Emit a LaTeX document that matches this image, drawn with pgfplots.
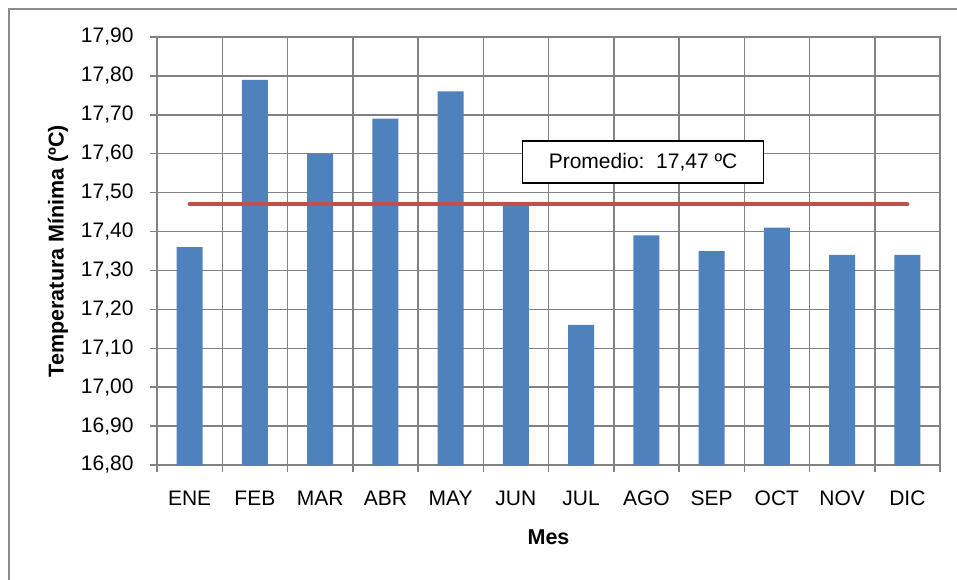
\documentclass[border=0pt]{standalone}
\usepackage{fontspec}
\setmainfont{Liberation Sans}
\usepackage{pgfplots}
\pgfplotsset{compat=1.18}
\definecolor{barblue}{HTML}{4F81BD}
\definecolor{avgred}{HTML}{C0504D}
\definecolor{gridgray}{HTML}{828282}
\definecolor{framegray}{HTML}{8C8C8C}
\begin{document}
\begin{tikzpicture}[x=1pt,y=1pt]
\useasboundingbox (0,0) rectangle (957,579);
\clip (0,0) rectangle (957,579);
\fill[white] (0,0) rectangle (957,579);
\draw[framegray, line width=1.5pt] (9,-10) rectangle (966,570);
\begin{axis}[
  at={(157pt,114pt)}, anchor=south west,
  scale only axis, width=783pt, height=428pt,
  xmin=0.5, xmax=12.5, ymin=16.8, ymax=17.9,
  xtick={1,2,3,4,5,6,7,8,9,10,11,12},
  xticklabels={ENE,FEB,MAR,ABR,MAY,JUN,JUL,AGO,SEP,OCT,NOV,DIC},
  minor xtick={0.5,1.5,2.5,3.5,4.5,5.5,6.5,7.5,8.5,9.5,10.5,11.5,12.5},
  ytick={16.8,16.9,17.0,17.1,17.2,17.3,17.4,17.5,17.6,17.7,17.8,17.9},
  xtick pos=bottom, ytick pos=left,
  tick align=outside,
  major tick length=7pt, minor tick length=7pt,
  major x tick style={draw=none},
  minor x tick style={gridgray, line width=1.5pt},
  ytick style={gridgray, line width=1.5pt},
  xminorgrids=true, ymajorgrids=true, xmajorgrids=false,
  grid style={gridgray, line width=1.5pt},
  minor grid style={gridgray, line width=1.5pt},
  axis line style={gridgray, line width=1.5pt},
  ticklabel style={font=\fontsize{21}{24}\selectfont, text=black},
  xticklabel style={yshift=-15pt, text height=15pt, text depth=4pt},
  yticklabel style={xshift=-13pt, /pgf/number format/.cd, fixed, fixed zerofill, precision=2, use comma, 1000 sep={}, assume math mode=true},
  xlabel={Mes},
  ylabel={Temperatura Mínima (ºC)},
  label style={font=\bfseries\fontsize{21.5}{25}\selectfont},
  xlabel style={at={(axis description cs:0.5,-0.168)}, anchor=center},
  ylabel style={at={(axis description cs:-0.1264,0.5)}, anchor=center},
]
\addplot[ybar, bar width=0.4, fill=barblue, draw=none] coordinates {
  (1,17.36) (2,17.79) (3,17.60) (4,17.69) (5,17.76) (6,17.47)
  (7,17.16) (8,17.39) (9,17.35) (10,17.41) (11,17.34) (12,17.34)
};
\addplot[avgred, line width=4pt, line cap=round, mark=none] coordinates {(1,17.47) (12,17.47)};
\node[draw=black, line width=1.5pt, fill=white, minimum width=241pt, minimum height=42pt, inner sep=0pt, font=\fontsize{21}{24}\selectfont] at (axis cs:7.95,17.579) {Promedio:\ \ 17,47 ºC};
\end{axis}
\end{tikzpicture}
\end{document}
